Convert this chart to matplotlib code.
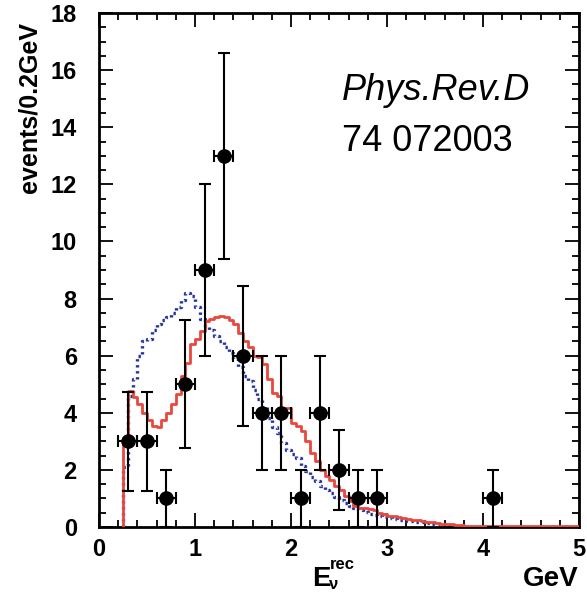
import numpy as np
import matplotlib
matplotlib.use("Agg")
import matplotlib.pyplot as plt
from matplotlib.ticker import MultipleLocator

# ---- data ----
data_x = [0.3, 0.5, 0.7, 0.9, 1.1, 1.3, 1.5, 1.7, 1.9, 2.1, 2.3, 2.5, 2.7, 2.9, 4.1]
data_y = [3, 3, 1, 5, 9, 13, 6, 4, 4, 1, 4, 2, 1, 1, 1]
data_xerr = 0.1

bin_width = 0.05
red_start = 0.25
red_vals = [2.9, 4.75, 4.55, 4.3, 4.0, 3.75, 3.55, 3.5, 3.75, 4.0,
            4.3, 4.65, 5.3, 5.75, 6.4, 6.6, 6.85, 7.2, 7.3, 7.35,
            7.4, 7.35, 7.25, 7.1, 6.8, 6.5, 6.3, 6.0, 5.95, 5.7,
            5.2, 4.7, 4.6, 4.15, 4.15, 3.65, 3.55, 3.35, 3.0, 2.6,
            2.3, 2.0, 1.8, 1.65, 1.45, 1.3, 1.1, 0.9, 0.75, 0.68,
            0.65, 0.62, 0.58, 0.5, 0.45, 0.4, 0.37, 0.34, 0.31, 0.28,
            0.25, 0.23, 0.2, 0.18, 0.16, 0.14, 0.12, 0.1, 0.09, 0.07,
            0.06, 0.05, 0.04, 0.04, 0.03] + [0.04] * 20

blue_start = 0.25
blue_vals = [2.1, 4.6, 5.2, 6.0, 6.5, 6.6, 6.9, 7.1, 7.25, 7.35,
             7.5, 7.7, 7.95, 8.2, 8.1, 7.7, 7.3, 7.05, 6.9, 6.7,
             6.5, 6.3, 6.1, 5.9, 5.6, 5.3, 5.1, 4.8, 4.5, 4.2,
             3.8, 3.5, 3.3, 2.95, 2.7, 2.55, 2.4, 2.15, 1.95, 1.75,
             1.6, 1.45, 1.3, 1.2, 1.05, 0.95, 0.85, 0.75, 0.68, 0.6,
             0.53, 0.47, 0.42, 0.38, 0.35, 0.32, 0.29, 0.26, 0.24, 0.22,
             0.2, 0.18, 0.16, 0.14, 0.12, 0.1, 0.08, 0.06, 0.05, 0.04, 0.03]

x_ticks = [0, 1, 2, 3, 4, 5]
y_ticks = [0, 2, 4, 6, 8, 10, 12, 14, 16, 18]

RED = "#e8483e"
BLUE = "#25339a"
FONT = "Liberation Sans"

fig = plt.figure(figsize=(5.87, 5.93), dpi=100)
ax = fig.add_axes([99 / 587, 66 / 593, 480 / 587, 514 / 593])

def step_hist(ax, start, vals, **kw):
    edges = start + bin_width * np.arange(len(vals) + 1)
    xs = np.concatenate([[edges[0]], np.repeat(edges[1:-1], 2), [edges[-1]]])
    ys = np.repeat(vals, 2)
    xs = np.concatenate([[edges[0]], xs])
    ys = np.concatenate([[0], ys])
    ax.plot(xs, ys, **kw)

step_hist(ax, blue_start, blue_vals, color=BLUE, lw=2.4,
          linestyle=(0, (0.7, 1.1)), zorder=2)
step_hist(ax, red_start, red_vals, color=RED, lw=2.0, zorder=3)

yerr = np.sqrt(np.array(data_y, dtype=float))
ax.errorbar(data_x, data_y, yerr=yerr, xerr=data_xerr, fmt="o", color="black",
            ms=9.5, elinewidth=1.5, capsize=4, capthick=1.5, zorder=5)

ax.set_xlim(0, 5)
ax.set_ylim(0, 18)
ax.set_xticks(x_ticks)
ax.set_yticks(y_ticks)
ax.xaxis.set_minor_locator(MultipleLocator(0.2))
ax.yaxis.set_minor_locator(MultipleLocator(0.5))
ax.tick_params(which="both", direction="in", top=True, right=True, width=1.3)
ax.tick_params(which="major", length=10)
ax.tick_params(which="minor", length=5)
ax.tick_params(axis="y", which="major", pad=16)
ax.tick_params(axis="x", which="major", pad=8)
for lab in ax.get_xticklabels() + ax.get_yticklabels():
    lab.set_fontfamily(FONT)
    lab.set_fontweight("bold")
    lab.set_fontsize(17)
for s in ax.spines.values():
    s.set_linewidth(2)

ax.text(-0.145, 1.0 - 9 / 514, "events/0.2GeV", rotation=90, ha="center", va="top",
        transform=ax.transAxes, fontsize=18, fontweight="bold", family=FONT)

# x label pieces
fig.text(312 / 587, 1 - 586 / 593, "E", fontsize=20, fontweight="bold", family=FONT,
         ha="left", va="baseline")
fig.text(330 / 587, 1 - 569 / 593, "rec", fontsize=12, fontweight="bold", family=FONT,
         ha="left", va="baseline")
fig.text(329 / 587, 1 - 589 / 593, "ν", fontsize=12, fontweight="bold", family=FONT,
         ha="left", va="baseline")
fig.text(578 / 587, 1 - 586 / 593, "GeV", fontsize=20, fontweight="bold", family=FONT,
         ha="right", va="baseline")

fig.text(342 / 587, 1 - 100 / 593, "Phys.Rev.D", fontsize=26, style="italic", family=FONT,
         ha="left", va="baseline")
fig.text(342 / 587, 1 - 151 / 593, "74 072003", fontsize=26, family=FONT,
         ha="left", va="baseline")

fig.savefig("out.png", dpi=100)
